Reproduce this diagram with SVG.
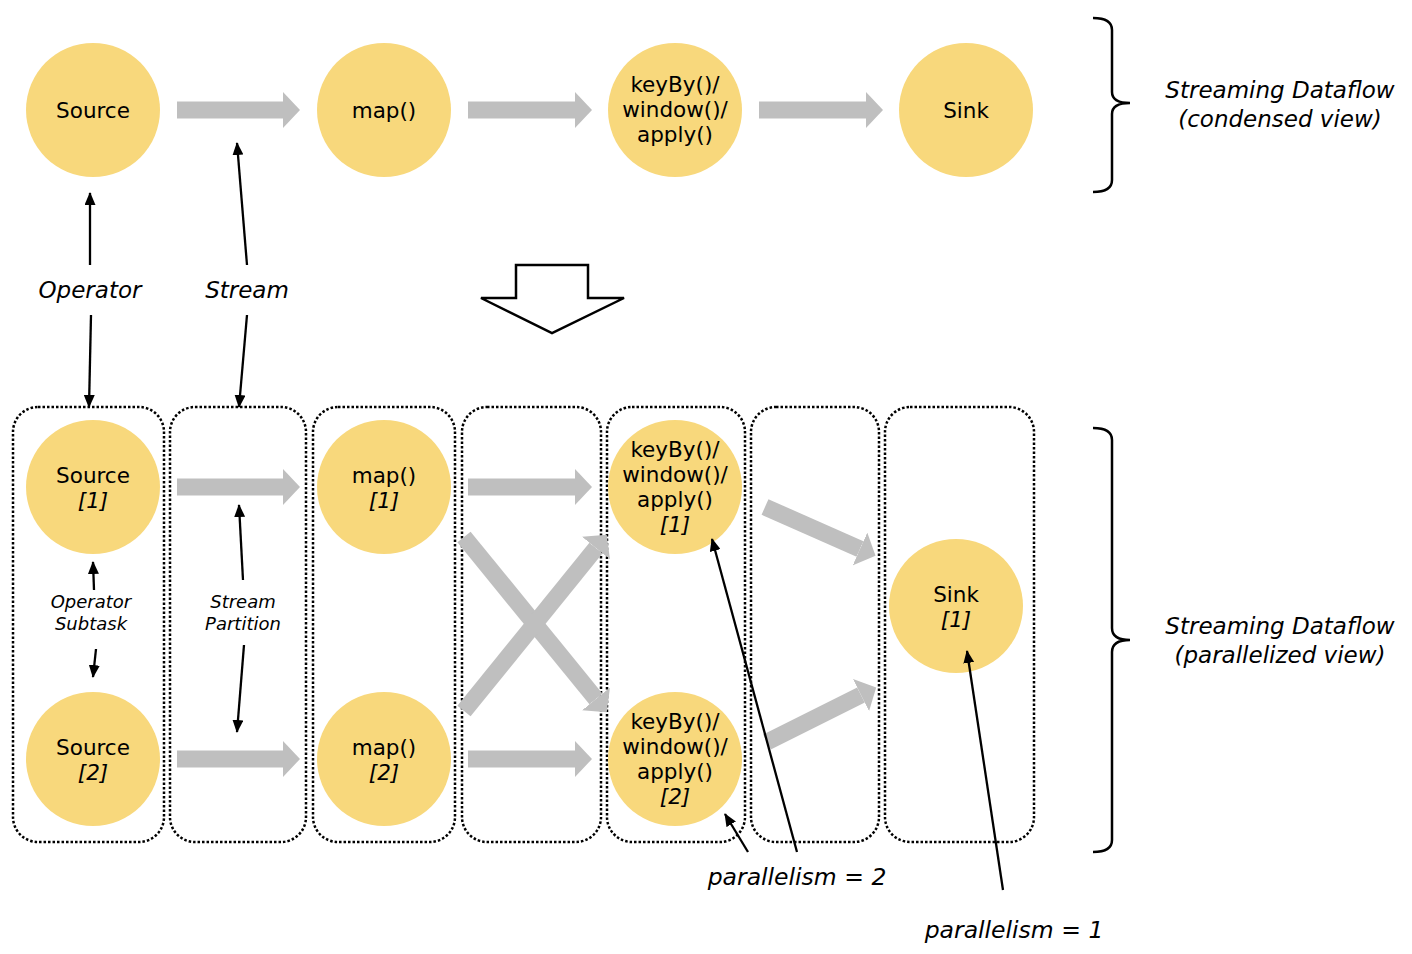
<svg xmlns="http://www.w3.org/2000/svg" width="1412" height="954" viewBox="0 0 1412 954">
<style>
.n{fill:#f8d87c}
.t{font-family:"DejaVu Sans","Liberation Sans",sans-serif;font-size:21.5px;fill:#000;text-anchor:middle}
.i{font-style:italic}
.lbl{font-family:"DejaVu Sans","Liberation Sans",sans-serif;font-style:italic;fill:#000;text-anchor:middle}
.box{fill:none;stroke:#000;stroke-width:2.5;stroke-dasharray:2.5 2}
.ga{stroke:#bfbfbf;stroke-width:17;fill:none;marker-end:url(#gh)}
.ba{stroke:#000;stroke-width:2.3;fill:none;marker-end:url(#bh)}
.br{fill:none;stroke:#000;stroke-width:2.5}
</style>
<defs>
<marker id="gh" markerUnits="userSpaceOnUse" markerWidth="18" markerHeight="36" refX="0" refY="18" orient="auto">
<path d="M0,0 L17,18 L0,36 Z" fill="#bfbfbf"/>
</marker>
<marker id="bh" markerUnits="userSpaceOnUse" markerWidth="13" markerHeight="11" refX="12" refY="5.5" orient="auto">
<path d="M0,0 L13,5.5 L0,11 Z" fill="#000"/>
</marker>
</defs>
<rect width="1412" height="954" fill="#fff"/>

<g id="boxes">
<rect x="13" y="407" width="151" height="435" rx="25" class="box"/>
<rect x="170" y="407" width="136" height="435" rx="25" class="box"/>
<rect x="313" y="407" width="142" height="435" rx="25" class="box"/>
<rect x="462" y="407" width="139" height="435" rx="25" class="box"/>
<rect x="607" y="407" width="138" height="435" rx="25" class="box"/>
<rect x="751" y="407" width="128" height="435" rx="25" class="box"/>
<rect x="885" y="407" width="149" height="435" rx="25" class="box"/>
</g>

<g id="streams">
<line x1="177" y1="110" x2="283" y2="110" class="ga"/>
<line x1="468" y1="110" x2="575" y2="110" class="ga"/>
<line x1="759" y1="110" x2="866" y2="110" class="ga"/>
<line x1="177" y1="487" x2="283" y2="487" class="ga"/>
<line x1="177" y1="759" x2="283" y2="759" class="ga"/>
<line x1="468" y1="487" x2="575" y2="487" class="ga"/>
<line x1="468" y1="759" x2="575" y2="759" class="ga"/>
<line x1="464" y1="537" x2="596" y2="699" class="ga"/>
<line x1="464" y1="711" x2="596" y2="548" class="ga"/>
<line x1="765" y1="507" x2="860" y2="549" class="ga"/>
<line x1="767" y1="742" x2="861" y2="695" class="ga"/>
</g>

<g id="bigarrow">
<path d="M516,265 H588 V298 H624 L552,333 L481,298 H516 Z" fill="#fff" stroke="#000" stroke-width="2.5" stroke-linejoin="miter"/>
</g>

<g id="source">
<circle cx="93" cy="110" r="67" class="n"/>
<text x="93" y="118" class="t">Source</text>
</g>
<g id="map">
<circle cx="384" cy="110" r="67" class="n"/>
<text x="384" y="118" class="t">map()</text>
</g>
<g id="keyby">
<circle cx="675" cy="110" r="67" class="n"/>
<text x="675" y="92" class="t">keyBy()/</text>
<text x="675" y="117" class="t">window()/</text>
<text x="675" y="142" class="t">apply()</text>
</g>
<g id="sink">
<circle cx="966" cy="110" r="67" class="n"/>
<text x="966" y="118" class="t">Sink</text>
</g>

<g id="source1">
<circle cx="93" cy="487" r="67" class="n"/>
<text x="93" y="483" class="t">Source</text>
<text x="93" y="508" class="t i">[1]</text>
</g>
<g id="source2">
<circle cx="93" cy="759" r="67" class="n"/>
<text x="93" y="755" class="t">Source</text>
<text x="93" y="780" class="t i">[2]</text>
</g>
<g id="map1">
<circle cx="384" cy="487" r="67" class="n"/>
<text x="384" y="483" class="t">map()</text>
<text x="384" y="508" class="t i">[1]</text>
</g>
<g id="map2">
<circle cx="384" cy="759" r="67" class="n"/>
<text x="384" y="755" class="t">map()</text>
<text x="384" y="780" class="t i">[2]</text>
</g>
<g id="keyby1">
<circle cx="675" cy="487" r="67" class="n"/>
<text x="675" y="457" class="t">keyBy()/</text>
<text x="675" y="482" class="t">window()/</text>
<text x="675" y="507" class="t">apply()</text>
<text x="675" y="532" class="t i">[1]</text>
</g>
<g id="keyby2">
<circle cx="675" cy="759" r="67" class="n"/>
<text x="675" y="729" class="t">keyBy()/</text>
<text x="675" y="754" class="t">window()/</text>
<text x="675" y="779" class="t">apply()</text>
<text x="675" y="804" class="t i">[2]</text>
</g>
<g id="sink1">
<circle cx="956" cy="606" r="67" class="n"/>
<text x="956" y="602" class="t">Sink</text>
<text x="956" y="627" class="t i">[1]</text>
</g>

<g id="connectors">
<line x1="90" y1="265" x2="90" y2="193" class="ba"/>
<line x1="91" y1="315" x2="89" y2="407" class="ba"/>
<line x1="247" y1="265" x2="237" y2="143" class="ba"/>
<line x1="247" y1="315" x2="239" y2="407" class="ba"/>
<line x1="94" y1="590" x2="93" y2="562" class="ba"/>
<line x1="96" y1="649" x2="93" y2="677" class="ba"/>
<line x1="243" y1="580" x2="239" y2="505" class="ba"/>
<line x1="244" y1="645" x2="237" y2="732" class="ba"/>
<line x1="797" y1="852" x2="712" y2="539" class="ba"/>
<line x1="748" y1="852" x2="725" y2="814" class="ba"/>
<line x1="1003" y1="890" x2="967" y2="651" class="ba"/>
</g>

<g id="labels">
<text x="90" y="298" class="lbl" font-size="23">Operator</text>
<text x="247" y="298" class="lbl" font-size="23">Stream</text>
<text x="91" y="608" class="lbl" font-size="18">Operator</text>
<text x="91" y="630" class="lbl" font-size="18">Subtask</text>
<text x="243" y="608" class="lbl" font-size="18">Stream</text>
<text x="243" y="630" class="lbl" font-size="18">Partition</text>
<text x="797" y="885" class="lbl" font-size="23.5">parallelism = 2</text>
<text x="1014" y="938" class="lbl" font-size="23.5">parallelism = 1</text>
<text x="1280" y="98" class="lbl" font-size="23">Streaming Dataflow</text>
<text x="1280" y="127" class="lbl" font-size="23">(condensed view)</text>
<text x="1280" y="634" class="lbl" font-size="23">Streaming Dataflow</text>
<text x="1280" y="663" class="lbl" font-size="23">(parallelized view)</text>
</g>

<g id="braces">
<path class="br" d="M1093,18 Q1112,18 1112,30 V92 Q1112,103 1130,103 Q1112,103 1112,114 V180 Q1112,192 1093,192"/>
<path class="br" d="M1093,428 Q1112,428 1112,440 V628 Q1112,640 1130,640 Q1112,640 1112,652 V840 Q1112,852 1093,852"/>
</g>
</svg>
